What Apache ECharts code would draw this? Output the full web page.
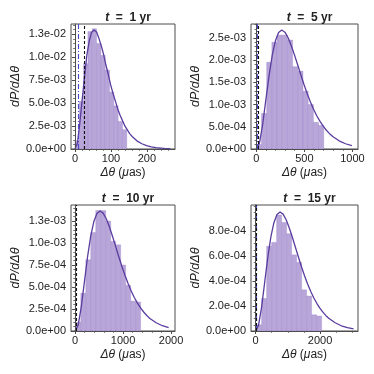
<!DOCTYPE html>
<html><head><meta charset="utf-8">
<script src="https://cdn.jsdelivr.net/npm/echarts@6/dist/echarts.min.js"></script>
<style>html,body{margin:0;padding:0;background:#fff}#c{width:374px;height:374px}</style>
</head><body><div id="c"></div>
<script>
// ---- data ----
const years = ['1', '5', '10', '15'];
const vlines = [10, 25]; // blue dash-dot, black dashed

const xTicks1 = [0, 100, 200];
const yTicks1 = [0, 0.0025, 0.005, 0.0075, 0.01, 0.0125];
const xTicks2 = [0, 500, 1000];
const yTicks2 = [0, 0.0005, 0.001, 0.0015, 0.002, 0.0025];
const xTicks3 = [0, 1000, 2000];
const yTicks3 = [0, 0.00025, 0.0005, 0.00075, 0.001, 0.00125];
const xTicks4 = [0, 2000];
const yTicks4 = [0, 0.0002, 0.0004, 0.0006, 0.0008];

const edges1 = [0, 12, 24, 36, 48, 60, 72, 84, 96, 108, 120, 132, 144];
const hist1 = [0.0009, 0.0052, 0.0093, 0.0128, 0.0131, 0.0115, 0.0102, 0.0086, 0.0062, 0.0047, 0.0030, 0.0021];
const edges2 = [0, 54, 108, 162, 216, 270, 324, 378, 432, 486, 540, 594, 648, 702];
const hist2 = [0.0001, 0.0008, 0.00195, 0.0024, 0.00256, 0.00256, 0.00245, 0.00185, 0.00175, 0.0013, 0.0010, 0.0006, 0.00053];
const edges3 = [15, 119, 223, 327, 431, 535, 639, 743, 847, 951, 1055, 1159, 1263, 1367];
const hist3 = [0.0001, 0.00043, 0.00081, 0.00112, 0.00137, 0.00137, 0.00125, 0.00102, 0.00098, 0.00075, 0.00052, 0.00034, 0.00033];
const edges4 = [35, 190, 345, 500, 655, 810, 965, 1120, 1275, 1430, 1585, 1740, 1895, 2050];
const hist4 = [0.00005, 0.00026, 0.00068, 0.00071, 0.00093, 0.00087, 0.00078, 0.00061, 0.00055, 0.00033, 0.00028, 0.00013, 0.00012];

const curveX1 = [0, 7, 13, 20, 27, 33, 40, 46, 53, 60, 66, 73, 80, 86, 93, 99, 106, 113, 119, 126, 133, 139, 146, 152, 159, 172, 186, 199, 212, 225, 239, 252, 265];
const curveY1 = [0, 0.00064, 0.00264, 0.00533, 0.00800, 0.01023, 0.01180, 0.01270, 0.01297, 0.01274, 0.01213, 0.01126, 0.01024, 0.00915, 0.00806, 0.00701, 0.00602, 0.00513, 0.00433, 0.00362, 0.00301, 0.00249, 0.00205, 0.00167, 0.00136, 0.00089, 0.00057, 0.00036, 0.00023, 0.00014, 0.00009, 0.00005, 0.00003];
const curveX2 = [0, 33, 66, 99, 133, 166, 199, 232, 265, 298, 331, 364, 398, 431, 464, 497, 530, 563, 596, 629, 663, 696, 729, 762, 795, 861, 928, 994];
const curveY2 = [0, 0.000132, 0.000545, 0.001098, 0.001649, 0.002109, 0.002433, 0.002617, 0.002674, 0.002626, 0.002500, 0.002322, 0.002111, 0.001887, 0.001662, 0.001444, 0.001242, 0.001057, 0.000892, 0.000747, 0.000621, 0.000514, 0.000422, 0.000345, 0.000281, 0.000184, 0.000118, 0.000075];
const curveX3 = [0, 65, 130, 195, 260, 325, 390, 455, 520, 585, 650, 715, 780, 845, 910, 975, 1040, 1105, 1170, 1235, 1300, 1365, 1430, 1495, 1560, 1690, 1820, 1950];
const curveY3 = [0, 0.0000672, 0.000278, 0.000561, 0.000842, 0.001076, 0.001242, 0.001336, 0.001365, 0.001341, 0.001276, 0.001185, 0.001078, 0.000963, 0.000848, 0.000737, 0.000634, 0.000540, 0.000455, 0.000381, 0.000317, 0.000262, 0.000216, 0.000176, 0.000143, 0.000094, 0.000060, 0.000038];
const curveX4 = [0, 95, 190, 285, 380, 475, 570, 665, 760, 855, 950, 1045, 1140, 1235, 1330, 1425, 1520, 1615, 1710, 1805, 1900, 1995, 2090, 2185, 2280, 2470, 2660, 2850, 3040];
const curveY4 = [0, 0.0000469, 0.000194, 0.000392, 0.000588, 0.000752, 0.000868, 0.000934, 0.000954, 0.000937, 0.000892, 0.000828, 0.000753, 0.000673, 0.000593, 0.000515, 0.000443, 0.000377, 0.000318, 0.000267, 0.000222, 0.000183, 0.000151, 0.000123, 0.000100, 0.000066, 0.000042, 0.000027, 0.000017];

// ---- layout ----
const FONT = 'Liberation Sans, Arial, Helvetica, sans-serif';
const SPINE = '#4d4d4d';
const TXT = '#222222';
const panels = [
  {edges: edges1, hist: hist1, cx: curveX1, cy: curveY1, xt: xTicks1, yt: yTicks1, xr: [-11, 278], yr: [0, 0.01362], xm: 20, ym: 0.0005,
   grid: {left: 71, top: 24, width: 104, height: 125}, yGap: 42},
  {edges: edges2, hist: hist2, cx: curveX2, cy: curveY2, xt: xTicks2, yt: yTicks2, xr: [-55, 1058], yr: [0, 0.00281], xm: 100, ym: 0.0001,
   grid: {left: 251, top: 24, width: 107, height: 125}, yGap: 37},
  {edges: edges3, hist: hist3, cx: curveX3, cy: curveY3, xt: xTicks3, yt: yTicks3, xr: [-85, 2083], yr: [0, 0.001433], xm: 200, ym: 0.00005,
   grid: {left: 71, top: 205, width: 104, height: 126}, yGap: 42},
  {edges: edges4, hist: hist4, cx: curveX4, cy: curveY4, xt: xTicks4, yt: yTicks4, xr: [-140, 3178], yr: [0, 0.00101], xm: 500, ym: 0.00005,
   grid: {left: 251, top: 205, width: 107, height: 126}, yGap: 37}
];

function fmtExp(v) {
  if (v === 0) return '0.0e+00';
  const s = v.toExponential(1);
  const parts = s.split('e');
  const n = parseInt(parts[1], 10);
  return parts[0] + 'e' + (n < 0 ? '-' : '+') + String(Math.abs(n)).padStart(2, '0');
}
function minorList(min, max, step, majors) {
  const out = [];
  const k0 = Math.ceil(min / step - 1e-9);
  for (let k = k0; k * step <= max + step * 1e-9; k++) {
    const v = +(k * step).toPrecision(12);
    if (!majors.some(m => Math.abs(m - v) < step * 1e-6)) out.push(v);
  }
  return out;
}

const grids = [], xAxes = [], yAxes = [], series = [], titles = [];
panels.forEach((p, i) => {
  grids.push(Object.assign({show: true, borderColor: SPINE, borderWidth: 1, backgroundColor: 'transparent'}, p.grid));
  const xi = xAxes.length, yi = yAxes.length;
  xAxes.push({
    type: 'value', gridIndex: i, position: 'bottom', min: p.xr[0], max: p.xr[1], z: 5,
    axisLine: {show: true, lineStyle: {color: SPINE, width: 1}},
    axisTick: {show: true, customValues: p.xt, length: 3, lineStyle: {color: SPINE, width: 1}},
    axisLabel: {show: true, customValues: p.xt, margin: 4, fontSize: 11, color: TXT, fontFamily: FONT, formatter: v => String(v)},
    splitLine: {show: false},
    name: '{i|Δθ} ({i|μ}as)', nameLocation: 'middle', nameGap: 18,
    nameTextStyle: {fontSize: 12, color: TXT, fontFamily: FONT,
      rich: {i: {fontStyle: 'italic', fontSize: 12, color: TXT, fontFamily: FONT}}}
  });
  xAxes.push({
    type: 'value', gridIndex: i, position: 'bottom', min: p.xr[0], max: p.xr[1], z: 5,
    axisLine: {show: false},
    axisTick: {show: true, customValues: minorList(p.xr[0], p.xr[1], p.xm, p.xt), length: 1.8, lineStyle: {color: SPINE, width: 0.8}},
    axisLabel: {show: false}, splitLine: {show: false}
  });
  yAxes.push({
    type: 'value', gridIndex: i, position: 'left', min: p.yr[0], max: p.yr[1], z: 5,
    axisLine: {show: true, lineStyle: {color: SPINE, width: 1}},
    axisTick: {show: true, customValues: p.yt, length: 3, lineStyle: {color: SPINE, width: 1}},
    axisLabel: {show: true, customValues: p.yt, margin: 5, fontSize: 11, color: TXT, fontFamily: FONT, formatter: v => fmtExp(v)},
    splitLine: {show: false},
    name: 'dP/dΔθ', nameLocation: 'middle', nameGap: p.yGap, nameRotate: 90,
    nameTextStyle: {fontSize: 12.5, fontStyle: 'italic', color: TXT, fontFamily: FONT}
  });
  yAxes.push({
    type: 'value', gridIndex: i, position: 'left', min: p.yr[0], max: p.yr[1], z: 5,
    axisLine: {show: false},
    axisTick: {show: true, customValues: minorList(p.yr[0], p.yr[1], p.ym, p.yt), length: 1.8, lineStyle: {color: SPINE, width: 0.8}},
    axisLabel: {show: false}, splitLine: {show: false}
  });
  series.push({
    type: 'custom', xAxisIndex: xi, yAxisIndex: yi, clip: true, z: 1,
    data: p.hist.map((h, k) => [p.edges[k], p.edges[k + 1], h]),
    encode: {x: [0, 1], y: 2},
    renderItem: function (params, api) {
      const a = api.coord([api.value(0), api.value(2)]);
      const b = api.coord([api.value(1), 0]);
      return {type: 'rect', shape: {x: a[0], y: a[1], width: b[0] - a[0], height: b[1] - a[1]},
        style: {fill: '#b8a6d9', stroke: 'rgba(150,125,200,0.55)', lineWidth: 0.6}};
    }
  });
  series.push({
    type: 'line', xAxisIndex: xi, yAxisIndex: yi, z: 3,
    data: p.cx.map((x, k) => [x, p.cy[k]]),
    smooth: false, showSymbol: false, symbol: 'none',
    lineStyle: {color: '#5a3c9e', width: 1.3, join: 'round'},
    markLine: {
      symbol: 'none', silent: true, animation: false, label: {show: false},
      data: [
        {xAxis: vlines[0], lineStyle: {color: '#4848c8', type: [5, 2, 1, 2], width: 1.1}},
        {xAxis: vlines[1], lineStyle: {color: '#111111', type: [3, 2], width: 1.1}}
      ]
    }
  });
  titles.push({
    text: '{it|t}{b|  =  ' + years[i] + ' yr}',
    left: p.grid.left + p.grid.width / 2, top: p.grid.top - 17, textAlign: 'center',
    textStyle: {fontSize: 12, color: TXT, fontFamily: FONT,
      rich: {it: {fontStyle: 'italic', fontSize: 12, color: TXT, fontFamily: FONT},
             b: {fontWeight: 'bold', fontSize: 12, color: TXT, fontFamily: FONT}}}
  });
});

const chart = echarts.init(document.getElementById('c'), null, {renderer: 'canvas'});
chart.setOption({animation: false, backgroundColor: '#ffffff', title: titles, grid: grids, xAxis: xAxes, yAxis: yAxes, series: series});
</script>
</body></html>
